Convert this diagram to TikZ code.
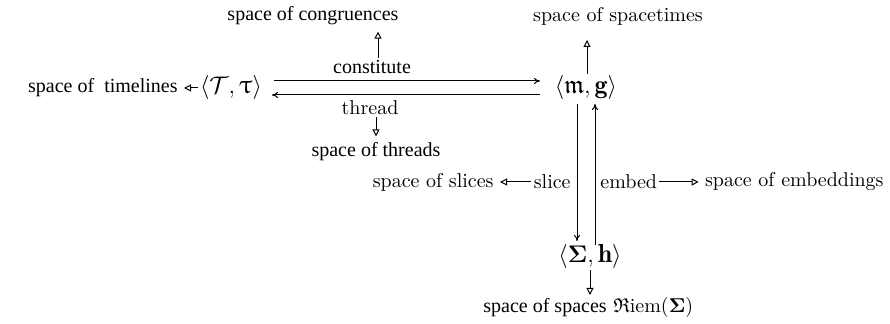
\documentclass[tikz,border=0pt]{standalone}
\usepackage{fontspec}
\usepackage{amsmath,amssymb,bm,upgreek}
\usetikzlibrary{arrows.meta}
\newfontfamily\tms{Liberation Serif}
\begin{document}
\begin{tikzpicture}[x=0.5pt,y=-0.5pt,
  every node/.style={inner sep=1pt},
  tlab/.style={font=\tms},
  clab/.style={font=\normalsize},
  obj/.style={font=\fontsize{13}{15}\selectfont},
  main/.style={-{To[length=3pt,width=3pt]}, line width=0.5pt},
  toset/.style={-{Triangle[open,length=3.5pt,width=3.5pt]}, line width=0.5pt, shorten >=2pt}]
\useasboundingbox (0,0) rectangle (890,324);
% objects
\node[obj] (T) at (231,88) {$\langle \mathcal{T},\uptau\rangle$};
\node[obj] (M) at (586,88) {$\langle \mathfrak{m},\mathbf{g}\rangle$};
\node[obj] (S) at (590,256) {$\langle \bm{\Sigma},\mathbf{h}\rangle$};
% spaces
\node[tlab,anchor=east] (tl) at (180,88) {space of\ \ timelines};
\node[tlab] (cong) at (313,16) {space of congruences};
\node[tlab] (thr) at (376,152) {space of threads};
\node[clab] (st) at (618,16) {space of spacetimes};
\node[clab,anchor=east] (sl) at (496,182) {space of slices};
\node[clab,anchor=east] (emb) at (886,182) {space of embeddings};
\node[anchor=west] (sp) at (481,308) {{\tms space of spaces} $\mathfrak{R}\mathrm{iem}(\bm{\Sigma})$};
% labels
\node[tlab] (con) at (372,67) {constitute};
\node[clab] (th) at (370,108) {thread};
\node[clab,anchor=east] (sli) at (573,182) {slice};
\node[clab,anchor=west] (emd) at (598,182) {embed};
% coordinates
\coordinate (a1) at (274,81);
\coordinate (a2) at (540,81);
\coordinate (b1) at (540,95);
\coordinate (b2) at (272,95);
\coordinate (d1) at (577,104);
\coordinate (d2) at (577,241);
\coordinate (u1) at (595,245);
\coordinate (u2) at (595,104);
% main arrows
\draw[main] (a1) -- (a2);
\draw[main] (b1) -- (b2);
\draw[main] (d1) -- (d2);
\draw[main] (u1) -- (u2);
% arrows to spaces
\draw[toset] (con.north -| 378,0) -- (cong.south -| 378,0);
\draw[toset] (T.west) -- (tl.east);
\draw[toset] (th.south -| thr.north) -- (thr.north);
\draw[toset] (M.north -| 587,0) -- (587,36);
\draw[toset] (sli.west) -- (sl.east);
\draw[toset] (emd.east) -- (emb.west);
\draw[toset] (S.south) -- (S.south |- 0,299);
\end{tikzpicture}
\end{document}
